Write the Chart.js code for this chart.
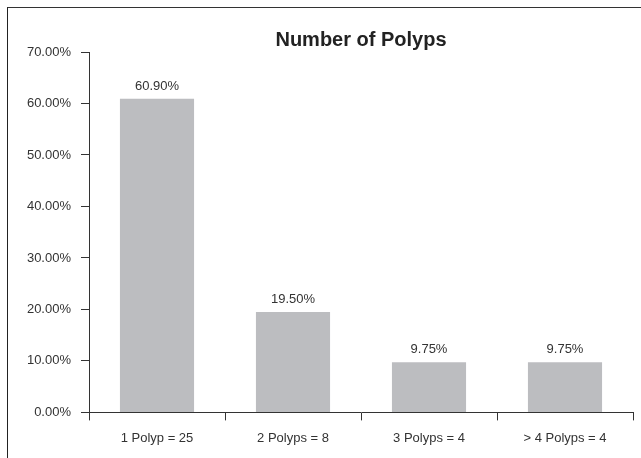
<!DOCTYPE html>
<html>
<head>
<meta charset="utf-8">
<script src="https://cdn.jsdelivr.net/npm/chart.js@4.4.1/dist/chart.umd.min.js"></script>
<style>
  html, body { margin: 0; padding: 0; background: #fff; overflow: hidden; }
  #frame { position: absolute; left: 7px; top: 7px; width: 700px; height: 500px;
           border-top: 1.5px solid #333; border-left: 1.5px solid #222; }
  #wrap { position: absolute; left: 0; top: 0; width: 641px; height: 458px; }
</style>
</head>
<body>
<div id="frame"></div>
<div id="wrap"><canvas id="c" width="641" height="458"></canvas></div>
<script>
const categories = ["1 Polyp = 25", "2 Polyps = 8", "3 Polyps = 4", "> 4 Polyps = 4"];
const percentValues = [60.90, 19.50, 9.75, 9.75];
const chartTitle = "Number of Polyps";

const textColor = "#333333";
const axisColor = "#333333";

const valueLabels = {
  id: "valueLabels",
  afterDatasetsDraw(chart) {
    const ctx = chart.ctx;
    const meta = chart.getDatasetMeta(0);
    ctx.save();
    ctx.font = "13px 'Liberation Sans', Arial, sans-serif";
    ctx.fillStyle = textColor;
    ctx.textAlign = "center";
    ctx.textBaseline = "bottom";
    meta.data.forEach((bar, i) => {
      const v = chart.data.datasets[0].data[i];
      ctx.fillText(v.toFixed(2) + "%", bar.x, bar.y - 6);
    });
    ctx.restore();
  }
};

new Chart(document.getElementById("c"), {
  type: "bar",
  data: {
    labels: categories,
    datasets: [{
      data: percentValues,
      backgroundColor: "#bcbdc0",
      borderWidth: 0,
      barPercentage: 0.545,
      categoryPercentage: 1.0
    }]
  },
  options: {
    responsive: false,
    animation: false,
    devicePixelRatio: 1,
    layout: { padding: { left: 0, right: 8, top: 0, bottom: 2 } },
    plugins: {
      legend: { display: false },
      tooltip: { enabled: false },
      title: {
        display: true,
        text: chartTitle,
        fullSize: false,
        color: "#222222",
        font: { family: "'Liberation Sans', Arial, sans-serif", size: 20, weight: "bold", lineHeight: 1.2 },
        padding: { top: 28, bottom: 0 }
      }
    },
    scales: {
      x: {
        offset: true,
        grid: {
          display: true,
          offset: true,
          drawOnChartArea: false,
          drawTicks: true,
          tickLength: 8,
          color: axisColor,
          lineWidth: 1
        },
        border: { display: true, color: axisColor, width: 1 },
        ticks: {
          color: textColor,
          padding: 10,
          font: { family: "'Liberation Sans', Arial, sans-serif", size: 13 }
        }
      },
      y: {
        min: 0,
        max: 70,
        grid: {
          display: true,
          drawOnChartArea: false,
          drawTicks: true,
          tickLength: 8,
          color: axisColor,
          lineWidth: 1
        },
        border: { display: true, color: axisColor, width: 1 },
        ticks: {
          stepSize: 10,
          color: textColor,
          padding: 10,
          font: { family: "'Liberation Sans', Arial, sans-serif", size: 13 },
          callback: (v) => v.toFixed(2) + "%"
        },
        afterFit(scale) { scale.width = 89; }
      }
    }
  },
  plugins: [valueLabels]
});
</script>
</body>
</html>
